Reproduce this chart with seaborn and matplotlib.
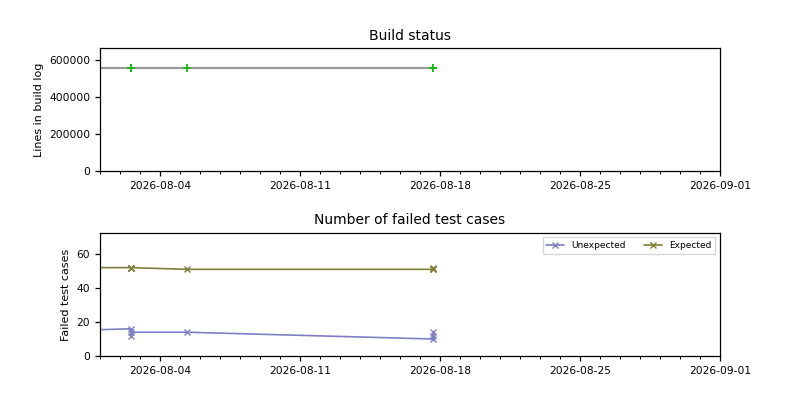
import numpy as np
import pandas as pd
import matplotlib
matplotlib.use('Agg')
import matplotlib.pyplot as plt
import matplotlib.dates as mdates
from matplotlib.ticker import MultipleLocator
import seaborn as sns

# ── data ────────────────────────────────────────────────────
build_times = ['2026-07-30 10:00',
               '2026-08-02 13:00', '2026-08-02 13:10', '2026-08-02 13:20',
               '2026-08-05 08:20',
               '2026-08-17 15:30', '2026-08-17 15:40', '2026-08-17 15:50']
log_lines   = [552000, 552000, 552000, 552000, 552000, 552000, 552000, 552000]
unexpected  = [15, 16, 12, 14, 14, 10, 14, 12]
expected    = [52, 52, 52, 52, 51, 51, 52, 51]

x_start, x_end = '2026-08-01', '2026-09-01'

df = pd.DataFrame({
    'time': pd.to_datetime(build_times),
    'lines': log_lines,
    'unexpected': unexpected,
    'expected': expected,
})

sns.set_style('ticks', {'text.color': 'black', 'axes.labelcolor': 'black',
                        'xtick.color': 'black', 'ytick.color': 'black',
                        'axes.edgecolor': 'black'})
plt.rcParams['font.family'] = ['DejaVu Sans']
plt.rcParams['axes.linewidth'] = 0.9
plt.rcParams['xtick.major.width'] = 0.9
plt.rcParams['ytick.major.width'] = 0.9
plt.rcParams['xtick.minor.width'] = 0.7

UNEXP = '#7f7fc4'
EXPCT = '#7f7f3a'
GRAY  = '#999999'
GREEN = '#1db81d'

fig, (ax1, ax2) = plt.subplots(2, 1, figsize=(8, 4), dpi=100)
fig.subplots_adjust(left=0.125, right=0.9, top=0.88, bottom=0.11, hspace=0.5)

# ── build status ────────────────────────────────────────────
sns.lineplot(data=df, x='time', y='lines', ax=ax1, color=GRAY, linewidth=1.6,
             estimator=None, sort=False)
sns.scatterplot(data=df, x='time', y='lines', ax=ax1, marker='+', s=30,
                color=GREEN, linewidth=1.3, zorder=3)
ax1.set_title('Build status', fontsize=10)
ax1.set_ylabel('Lines in build log', fontsize=8)
ax1.set_xlabel('')
ax1.set_ylim(0, 662000)
ax1.yaxis.set_major_locator(MultipleLocator(200000))

# ── failed tests ────────────────────────────────────────────
sns.lineplot(data=df, x='time', y='unexpected', ax=ax2, color=UNEXP,
             linewidth=1.2, marker='x', markersize=5, markeredgewidth=1,
             markeredgecolor=UNEXP, estimator=None, sort=False,
             label='Unexpected')
sns.lineplot(data=df, x='time', y='expected', ax=ax2, color=EXPCT,
             linewidth=1.2, marker='x', markersize=5, markeredgewidth=1,
             markeredgecolor=EXPCT, estimator=None, sort=False,
             label='Expected')
ax2.set_title('Number of failed test cases', fontsize=10)
ax2.set_ylabel('Failed test cases', fontsize=8)
ax2.set_xlabel('')
ax2.set_ylim(0, 72.5)
ax2.yaxis.set_major_locator(MultipleLocator(20))
ax2.legend(loc='upper right', ncol=2, fontsize=6.5, frameon=True,
           fancybox=False, edgecolor='#cccccc')

for ax in (ax1, ax2):
    ax.set_xlim(pd.Timestamp(x_start), pd.Timestamp(x_end))
    ax.xaxis.set_major_locator(mdates.WeekdayLocator(byweekday=mdates.TU))
    ax.xaxis.set_minor_locator(mdates.DayLocator())
    ax.xaxis.set_major_formatter(mdates.DateFormatter('%Y-%m-%d'))
    ax.tick_params(axis='both', labelsize=7.7)
    for s in ax.spines.values():
        s.set_visible(True)

plt.savefig('out.png', dpi=100)
plt.close()
